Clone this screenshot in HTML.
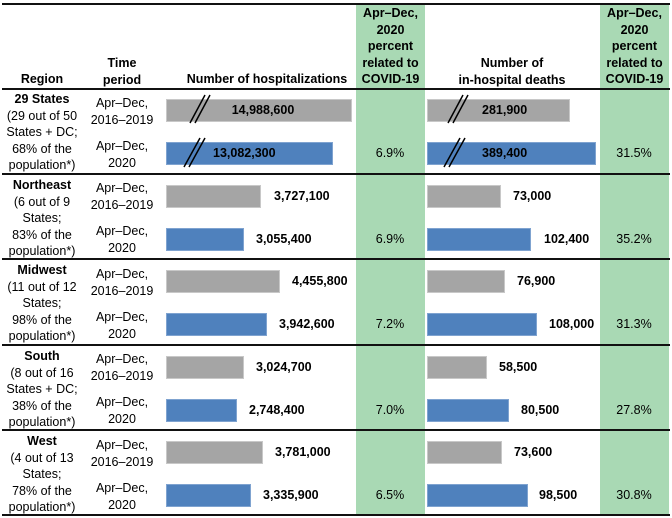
<!DOCTYPE html>
<html><head><meta charset="utf-8"><style>
body{margin:0;width:672px;height:518px;background:#fff;position:relative;overflow:hidden;font-family:"Liberation Sans",Arial,sans-serif;font-size:12.5px;color:#000}
div{position:absolute}
.g{background:#a9d9b4;top:4px;height:512px}
.hl{left:2px;width:668px;height:2px;background:#111}
.t{text-align:center;line-height:16.5px;white-space:nowrap}
.b{font-weight:bold}
.gb{background:#a5a5a5;border:1px solid #c8c8c8;box-sizing:border-box;height:23px}
.bb{background:#4f81bd;border:1px solid #7fa3d0;box-sizing:border-box;height:23px}
.n{font-weight:bold;line-height:23px;white-space:nowrap}
.p{line-height:23px;text-align:center;width:68px}
</style></head><body>
<div class="g" style="left:356px;width:69px"></div>
<div class="g" style="left:600px;width:69px"></div>
<div class="hl" style="top:3px"></div>
<div class="hl" style="top:88px"></div>
<div class="hl" style="top:173px"></div>
<div class="hl" style="top:258px"></div>
<div class="hl" style="top:344px"></div>
<div class="hl" style="top:429px"></div>
<div class="hl" style="top:514px"></div>

<div class="t b" style="left:0;width:84px;top:71px">Region</div>
<div class="t b" style="left:92px;width:60px;top:55px">Time<br>period</div>
<div class="t b" style="left:166px;width:202px;top:71px">Number of hospitalizations</div>
<div class="t b" style="left:356px;width:69px;top:5px">Apr–Dec,<br>2020<br>percent<br>related to<br>COVID-19</div>
<div class="t b" style="left:427px;width:170px;top:55px">Number of<br>in-hospital deaths</div>
<div class="t b" style="left:600px;width:69px;top:5px">Apr–Dec,<br>2020<br>percent<br>related to<br>COVID-19</div>

<!-- rows -->
<div class="t" style="left:0;width:84px;top:91px"><b>29 States</b><br>(29 out of 50<br>States + DC;<br>68% of the<br>population*)</div>
<div class="t" style="left:0;width:84px;top:177px"><b>Northeast</b><br>(6 out of 9<br>States;<br>83% of the<br>population*)</div>
<div class="t" style="left:0;width:84px;top:262px"><b>Midwest</b><br>(11 out of 12<br>States;<br>98% of the<br>population*)</div>
<div class="t" style="left:0;width:84px;top:348px"><b>South</b><br>(8 out of 16<br>States + DC;<br>38% of the<br>population*)</div>
<div class="t" style="left:0;width:84px;top:433px"><b>West</b><br>(4 out of 13<br>States;<br>78% of the<br>population*)</div>

<div class="t" style="left:88px;width:68px;top:95px">Apr–Dec,<br>2016–2019</div>
<div class="t" style="left:88px;width:68px;top:138px">Apr–Dec,<br>2020</div>
<div class="t" style="left:88px;width:68px;top:180px">Apr–Dec,<br>2016–2019</div>
<div class="t" style="left:88px;width:68px;top:223px">Apr–Dec,<br>2020</div>
<div class="t" style="left:88px;width:68px;top:266px">Apr–Dec,<br>2016–2019</div>
<div class="t" style="left:88px;width:68px;top:309px">Apr–Dec,<br>2020</div>
<div class="t" style="left:88px;width:68px;top:351px">Apr–Dec,<br>2016–2019</div>
<div class="t" style="left:88px;width:68px;top:394px">Apr–Dec,<br>2020</div>
<div class="t" style="left:88px;width:68px;top:437px">Apr–Dec,<br>2016–2019</div>
<div class="t" style="left:88px;width:68px;top:480px">Apr–Dec,<br>2020</div>

<!-- row 1 bars -->
<div class="gb" style="left:166px;top:99px;width:186px"></div>
<div class="n" style="left:166px;width:186px;top:99px;text-align:center;padding-left:8px;box-sizing:border-box">14,988,600</div>
<div class="bb" style="left:166px;top:142px;width:167px"></div>
<div class="n" style="left:213px;top:142px">13,082,300</div>
<div class="gb" style="left:427px;top:99px;width:143px"></div>
<div class="n" style="left:482px;top:99px">281,900</div>
<div class="bb" style="left:427px;top:142px;width:169px"></div>
<div class="n" style="left:482px;top:142px">389,400</div>
<div class="p" style="left:356px;top:142px">6.9%</div>
<div class="p" style="left:600px;top:142px">31.5%</div>
<svg style="position:absolute;left:0;top:0" width="672" height="518"><g stroke="#000" stroke-width="1.5">
<line x1="190" y1="123" x2="205" y2="95"/><line x1="195" y1="123" x2="210" y2="95"/>
<line x1="184" y1="167" x2="200" y2="138"/><line x1="189" y1="167" x2="205" y2="138"/>
<line x1="448" y1="123" x2="463" y2="95"/><line x1="453" y1="123" x2="468" y2="95"/>
<line x1="444" y1="167" x2="460" y2="138"/><line x1="449" y1="167" x2="465" y2="138"/>
</g></svg>

<!-- Northeast -->
<div class="gb" style="left:166px;top:185px;width:95px"></div><div class="n" style="left:274px;top:185px">3,727,100</div>
<div class="bb" style="left:166px;top:228px;width:78px"></div><div class="n" style="left:256px;top:228px">3,055,400</div>
<div class="gb" style="left:427px;top:185px;width:74px"></div><div class="n" style="left:513px;top:185px">73,000</div>
<div class="bb" style="left:427px;top:228px;width:104px"></div><div class="n" style="left:544px;top:228px">102,400</div>
<div class="p" style="left:356px;top:228px">6.9%</div><div class="p" style="left:600px;top:228px">35.2%</div>

<!-- Midwest -->
<div class="gb" style="left:166px;top:270px;width:114px"></div><div class="n" style="left:292px;top:270px">4,455,800</div>
<div class="bb" style="left:166px;top:313px;width:101px"></div><div class="n" style="left:279px;top:313px">3,942,600</div>
<div class="gb" style="left:427px;top:270px;width:78px"></div><div class="n" style="left:517px;top:270px">76,900</div>
<div class="bb" style="left:427px;top:313px;width:110px"></div><div class="n" style="left:549px;top:313px">108,000</div>
<div class="p" style="left:356px;top:313px">7.2%</div><div class="p" style="left:600px;top:313px">31.3%</div>

<!-- South -->
<div class="gb" style="left:166px;top:356px;width:78px"></div><div class="n" style="left:256px;top:356px">3,024,700</div>
<div class="bb" style="left:166px;top:399px;width:71px"></div><div class="n" style="left:249px;top:399px">2,748,400</div>
<div class="gb" style="left:427px;top:356px;width:60px"></div><div class="n" style="left:499px;top:356px">58,500</div>
<div class="bb" style="left:427px;top:399px;width:82px"></div><div class="n" style="left:521px;top:399px">80,500</div>
<div class="p" style="left:356px;top:399px">7.0%</div><div class="p" style="left:600px;top:399px">27.8%</div>

<!-- West -->
<div class="gb" style="left:166px;top:441px;width:97px"></div><div class="n" style="left:275px;top:441px">3,781,000</div>
<div class="bb" style="left:166px;top:484px;width:85px"></div><div class="n" style="left:263px;top:484px">3,335,900</div>
<div class="gb" style="left:427px;top:441px;width:75px"></div><div class="n" style="left:514px;top:441px">73,600</div>
<div class="bb" style="left:427px;top:484px;width:101px"></div><div class="n" style="left:539px;top:484px">98,500</div>
<div class="p" style="left:356px;top:484px">6.5%</div><div class="p" style="left:600px;top:484px">30.8%</div>
</body></html>
